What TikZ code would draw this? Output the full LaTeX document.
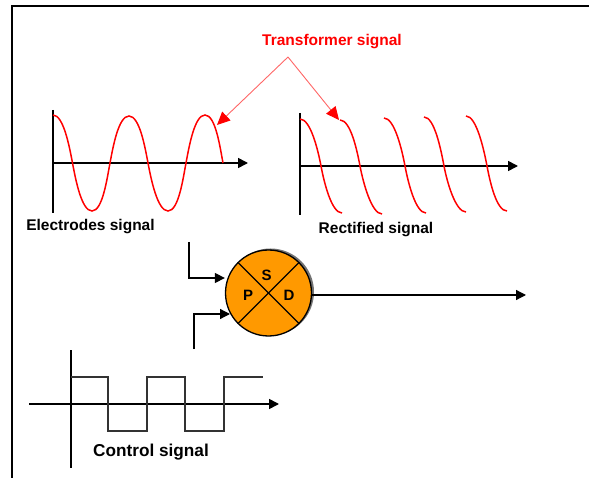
\documentclass[tikz,border=0pt]{standalone}
\usepackage{fontspec}
\setmainfont{Liberation Sans}
\usetikzlibrary{arrows.meta,positioning,calc}
\definecolor{sumfill}{HTML}{FF9900}
\newcommand{\topzero}[2]{.. controls +(10.5,0) and +(-3,-16) .. (#1,#2)}
\newcommand{\zerobot}[2]{.. controls +(3,16) and +(-10.5,0) .. (#1,#2)}
\newcommand{\botzero}[2]{.. controls +(10.5,0) and +(-3,16) .. (#1,#2)}
\newcommand{\zerotop}[2]{.. controls +(3,-16) and +(-10.5,0) .. (#1,#2)}
\tikzset{>={Triangle[length=10pt,width=10pt]},
  signal/.style={red,line width=1.5pt},
  axis/.style={black,line width=1.6pt,->},
  wire/.style={black,line width=1.3pt},
  label/.style={font=\bfseries\fontsize{15.5}{18}\selectfont,inner sep=0pt},
  letter/.style={font=\bfseries\fontsize{15}{17}\selectfont,inner sep=0pt},
  pointer/.style={red!60,line width=0.9pt,-{Triangle[length=13pt,width=12pt,fill=red,color=red]}}}
\begin{document}
\begin{tikzpicture}[x=1pt,y=-1pt]
    \useasboundingbox (0,0) rectangle (589,478);
    \draw [line width=1.7pt] (12,478) -- (12,6) -- (589,6);
    % electrodes signal
    \coordinate (eo) at (53,163);
    \draw [wire] (53,110) -- (53,213);
    \draw [axis] (eo) -- (248,163) coordinate (ee);
    \draw [signal] (53,115) \topzero{72.5}{163} \zerobot{92}{211} \botzero{110}{163} \zerotop{129}{116} \topzero{148}{163} \zerobot{168}{211} \botzero{186}{163} \zerotop{205}{115} \topzero{223}{163};
    \node [label] (elabel) at (90.5,227) {Electrodes signal};
    % rectified signal
    \coordinate (ro) at (300,166);
    \draw [wire] (300,113) -- (300,215);
    \draw [axis] (ro) -- (518,166) coordinate (re);
    \foreach \a/\ya/\b/\c/\yc in {300/119/321/342/213,340/120/360/382/214,384/118/405/426/213,424/117/444/466/212,466/116/487/507/211}
      \draw [signal] (\a,\ya) \topzero{\b}{166} \zerobot{\c}{\yc};
    \node [label] (rlabel) at (376,230) {Rectified signal};
    % transformer signal
    \node [label,red] (tlabel) at (332,42) {Transformer signal};
    \coordinate (apex) at (288,57);
    \coordinate (epeak) at (217,125);
    \coordinate (rpeak) at (339,120);
    \draw [pointer] (apex) -- (epeak);
    \draw [pointer] (apex) -- (rpeak);
    % sample and hold
    \node [circle,fill=black!55,minimum size=87pt,inner sep=0pt] (shadow) at (270.5,292) {};
    \node [circle,draw,fill=sumfill,line width=1.3pt,minimum size=86pt,inner sep=0pt] (psd) at (268.5,293) {};
    \draw [wire] (psd.north west) -- (psd.south east);
    \draw [wire] (psd.north east) -- (psd.south west);
    \node [letter] (s) at (266.5,275) {S};
    \node [letter] (p) at (248,295) {P};
    \node [letter] (d) at (289,295) {D};
    \coordinate (in1) at (189,242);
    \coordinate (in2) at (194,349);
    \coordinate (out) at (526,295);
    \draw [wire,->] (in1) |- (psd.west |- 0,278);
    \draw [wire,->] (in2) |- (230,314);
    \draw [wire,->] (psd.east |- out) -- (out);
    % control signal
    \coordinate (cl) at (29,404);
    \draw [wire] (71,350) -- (71,468);
    \draw [axis] (cl) -- (279,404) coordinate (cr);
    \draw [wire,black!80] (71,377) -- (108,377) -- (108,431) -- (147,431) -- (147,377) -- (185,377) -- (185,431) -- (224,431) -- (224,377) -- (263,377);
    \node [label,font=\bfseries\fontsize{17.2}{20}\selectfont] (clabel) at (151,452) {Control signal};
  \end{tikzpicture}
\end{document}
